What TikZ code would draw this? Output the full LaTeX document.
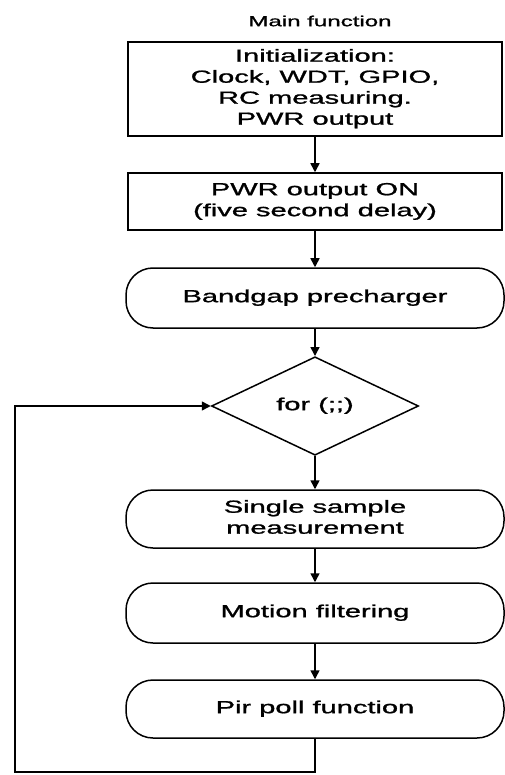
\documentclass[tikz,border=0pt]{standalone}
\usepackage{fontspec}
\usepackage{graphicx}
\setmainfont{Liberation Sans}[FakeBold=1]
\usetikzlibrary{shapes.geometric,arrows.meta}
% wide text, as in the scanned figure
\newcommand\wide[2][17.5]{{\fontsize{#1}{21}\selectfont\scalebox{1.66}[1]{\begin{tabular}{@{}c@{}}#2\end{tabular}}}}

\begin{document}
\begin{tikzpicture}[x=1pt,y=-1pt,
    box/.style={draw,line width=1.5pt,minimum width=374pt,inner sep=0pt},
    stadium/.style={box,minimum width=378pt,rounded corners=27pt},
    flow/.style={line width=1.5pt,-{Triangle[length=9pt,width=9pt]}}]
  \useasboundingbox (0,0) rectangle (504,775);
  \node (title) at (320,22) {\wide[14.5]{Main function}};
  \node[box,minimum height=94pt] (init) at (315,89) {\wide{Initialization:\\Clock,  WDT, GPIO,\\RC measuring.\\PWR output}};
  \node[box,minimum height=57pt] (pwr) at (315,201.5) {\wide{PWR output ON\\(five second delay)}};
  \node[stadium,minimum height=60pt] (bandgap) at (315,298) {\wide{Bandgap precharger}};
  \node[draw,diamond,line width=1.5pt,minimum width=207pt,minimum height=92pt,inner sep=0pt] (loop) at (315,406) {\wide{for (;;)}};
  \node[stadium,minimum height=58pt] (single) at (315,519) {\wide{Single sample\\measurement}};
  \node[stadium,minimum height=60pt] (motion) at (315,613) {\wide{Motion filtering}};
  \node[stadium,minimum height=58pt] (pir) at (315,709) {\wide{Pir poll function}};
  \coordinate (back) at (15,772);
  \draw[flow] (init) -- (pwr);
  \draw[flow] (pwr) -- (bandgap);
  \draw[flow] (bandgap) -- (loop);
  \draw[flow] (loop) -- (single);
  \draw[flow] (single) -- (motion);
  \draw[flow] (motion) -- (pir);
  \draw[flow] (pir.south) |- (back) |- (loop.west);
\end{tikzpicture}
\end{document}
